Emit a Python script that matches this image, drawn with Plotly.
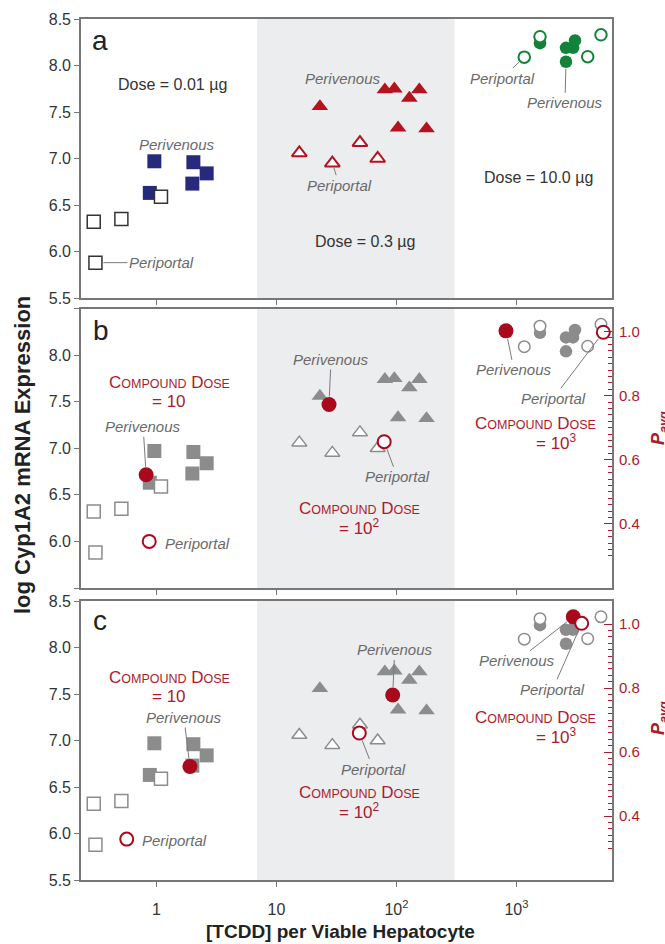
import math
import plotly.graph_objects as go

# ---- Dose = 0.01 ug (squares) ----
sq_pv_x = [0.96, 0.88, 2.03, 1.99, 2.62]
sq_pv_y = [6.97, 6.63, 6.96, 6.73, 6.84]
sq_pp_x = [0.30, 0.51, 1.09, 0.31]
sq_pp_y = [6.32, 6.35, 6.59, 5.88]

# ---- Dose = 0.3 ug (triangles) ----
tri_pv_x = [23.0, 80.0, 96.0, 128.0, 155.0, 103.0, 178.0]
tri_pv_y = [7.56, 7.74, 7.75, 7.65, 7.74, 7.33, 7.32]
tri_pp_x = [15.5, 29.2, 49.6, 69.7]
tri_pp_y = [7.06, 6.95, 7.17, 7.00]

# ---- Dose = 10.0 ug (circles) ----
cir_pv_x = [1570, 2585, 2960, 3073, 2585]
cir_pv_y = [8.24, 8.19, 8.19, 8.27, 8.04]
cir_pp_x = [1161, 1570, 3920, 5058]
cir_pp_y = [8.09, 8.31, 8.095, 8.33]

# ---- model predictions for compound doses 10, 10^2, 10^3 ----
compound_doses = ["10", "10<sup>2</sup>", "10<sup>3</sup>"]
b_pv_x = [0.82, 27.4, 817]
b_pv_y = [6.715, 7.47, 8.26]
b_pp_x = [0.87, 79.0, 5290]
b_pp_y = [6.00, 7.07, 8.245]
c_pv_x = [1.90, 93.0, 2974]
c_pv_y = [6.72, 7.49, 8.33]
c_pp_x = [0.565, 49.0, 3494]
c_pp_y = [5.94, 7.08, 8.26]

# axis ticks
y_ticks = [5.5, 6.0, 6.5, 7.0, 7.5, 8.0, 8.5]
x_ticks = [1, 10, 100, 1000]
x_ticktext = ["1", "10", "10<sup>2</sup>", "10<sup>3</sup>"]
p_ticks = [0.3, 0.4, 0.5, 0.6, 0.7, 0.8, 0.9, 1.0]
p_ticktext = ["", "0.4", "", "0.6", "", "0.8", "", "1.0"]
p_minor = [round(0.30 + 0.02 * i, 2) for i in range(36)]

FONT = "Liberation Sans, Arial, Helvetica, sans-serif"
NAVY = "#262a7c"
RED_T = "#b3121e"
GREEN = "#12843a"
GRAY = "#8c8c8c"
RED = "#a80a1c"
TXT_RED = "#ad1a2c"
LBL = "#6a6a6a"
FRAME = "#777777"
BAND = "#ecedef"

W, H = 665, 944
ML, MR, MT, MB = 81, 53, 19, 64
PW, PH = W - ML - MR, H - MT - MB


def paper(px, py):
    return (px - ML) / PW, (H - MB - py) / PH


fig = go.Figure()


def add_pts(xs, ys, xa, ya, symbol, size, color, filled, lw=1.5):
    fig.add_trace(go.Scatter(
        x=xs, y=ys, xaxis=xa, yaxis=ya, mode="markers", hoverinfo="skip",
        marker=dict(symbol=symbol, size=size,
                    color=color if filled else "white",
                    line=dict(color=color, width=0 if filled else lw)),
    ))


# panel a: coloured by dose
add_pts(sq_pv_x, sq_pv_y, "x", "y", "square", 14, NAVY, True)
add_pts(sq_pp_x, sq_pp_y, "x", "y", "square", 13, "#333333", False)
add_pts(tri_pv_x, tri_pv_y, "x", "y", "triangle-up", 14.5, RED_T, True)
add_pts(tri_pp_x, tri_pp_y, "x", "y", "triangle-up", 13, RED_T, False, 2)
add_pts(cir_pv_x, cir_pv_y, "x", "y", "circle", 12.5, GREEN, True)
add_pts(cir_pp_x, cir_pp_y, "x", "y", "circle", 11.5, GREEN, False, 2)

# panels b and c: data in gray plus predictions in red
for xa, ya, pvx, pvy, ppx, ppy in [("x2", "y2", b_pv_x, b_pv_y, b_pp_x, b_pp_y),
                                   ("x3", "y4", c_pv_x, c_pv_y, c_pp_x, c_pp_y)]:
    add_pts(sq_pv_x, sq_pv_y, xa, ya, "square", 14, GRAY, True)
    add_pts(sq_pp_x, sq_pp_y, xa, ya, "square", 13, GRAY, False)
    add_pts(tri_pv_x, tri_pv_y, xa, ya, "triangle-up", 14.5, GRAY, True)
    add_pts(tri_pp_x, tri_pp_y, xa, ya, "triangle-up", 13, GRAY, False)
    add_pts(cir_pv_x, cir_pv_y, xa, ya, "circle", 12.5, GRAY, True)
    add_pts(cir_pp_x, cir_pp_y, xa, ya, "circle", 11.5, GRAY, False)
    add_pts(pvx, pvy, xa, ya, "circle", 15, RED, True)
    add_pts(ppx, ppy, xa, ya, "circle", 13, RED, False, 2)

# panel vertical domains
dom_a = [paper(0, 298)[1], 1.0]
dom_b = [paper(0, 588)[1], paper(0, 308.5)[1]]
dom_c = [0.0, paper(0, 601)[1]]

xrange_log = [math.log10(0.235), math.log10(6250)]


def xax(anchor, labels):
    return dict(type="log", range=xrange_log, anchor=anchor, domain=[0, 1],
                showline=True, linecolor=FRAME, linewidth=1.6, mirror=True,
                ticks="outside", ticklen=5, tickwidth=1, tickcolor=FRAME,
                tickvals=x_ticks, ticktext=x_ticktext if labels else [""] * 4,
                showticklabels=labels, showgrid=False, zeroline=False,
                ticklabelstandoff=9,
                tickfont=dict(family=FONT, size=16, color="#333333"))


def yax(anchor, dom, skip_ends=False):
    tt = [("" if (skip_ends and v in (5.5, 8.5)) else f"{v:.1f}") for v in y_ticks]
    return dict(range=[5.5, 8.5], anchor=anchor, domain=dom,
                showline=True, linecolor=FRAME, linewidth=1.6, mirror=True,
                ticks="outside", ticklen=5, tickwidth=1, tickcolor=FRAME,
                tickvals=y_ticks, ticktext=tt, showgrid=False, zeroline=False,
                tickfont=dict(family=FONT, size=16, color="#333333"))


def pax(anchor, over):
    return dict(range=[0.2, 1.072], anchor=anchor, overlaying=over, side="right",
                showline=False, showgrid=False, zeroline=False,
                ticks="inside", ticklen=8, tickwidth=1, tickcolor=TXT_RED,
                tickvals=p_ticks, ticktext=p_ticktext, ticklabelstandoff=6,
                minor=dict(tickmode="array", tickvals=p_minor, ticks="inside",
                           ticklen=4, tickwidth=1, tickcolor=TXT_RED),
                tickfont=dict(family="Liberation Sans Narrow, Arial Narrow, " + FONT,
                              size=15, color=TXT_RED))


fig.update_layout(
    width=W, height=H, margin=dict(l=ML, r=MR, t=MT, b=MB),
    paper_bgcolor="white", plot_bgcolor="white", showlegend=False,
    font=dict(family=FONT),
    xaxis=xax("y", False), yaxis=yax("x", dom_a),
    xaxis2=xax("y2", False), yaxis2=yax("x2", dom_b, skip_ends=True),
    yaxis3=pax("x2", "y2"),
    xaxis3=xax("y4", True), yaxis4=yax("x3", dom_c),
    yaxis5=pax("x3", "y4"),
)
# keep the right-hand axes visible even without traces
fig.add_trace(go.Scatter(x=[None], y=[None], xaxis="x2", yaxis="y3", hoverinfo="skip"))
fig.add_trace(go.Scatter(x=[None], y=[None], xaxis="x3", yaxis="y5", hoverinfo="skip"))

# shaded 0.3 ug region in every panel
for xr, yr in [("x", "y"), ("x2", "y2"), ("x3", "y4")]:
    fig.add_shape(type="rect", xref=xr, yref=f"{yr} domain", x0=6.9, x1=305,
                  y0=0, y1=1, fillcolor=BAND, line=dict(width=0), layer="below")

ann = []


def text(px, py, s, size=15, color=LBL, italic=False, bold=False, anchor="center", angle=0):
    x, y = paper(px, py)
    if italic:
        s = f"<i>{s}</i>"
    if bold:
        s = f"<b>{s}</b>"
    ann.append(dict(xref="paper", yref="paper", x=x, y=y, text=s, showarrow=False,
                    xanchor=anchor, yanchor="middle", textangle=angle,
                    font=dict(family=FONT, size=size, color=color)))


def leader(xa, ya, xv, yv, dx, dy, s, standoff=7):
    ann.append(dict(xref=xa, yref=ya, x=math.log10(xv), y=yv, ax=dx, ay=dy,
                    text=f"<i>{s}</i>", showarrow=True, arrowhead=0, arrowwidth=1,
                    arrowcolor="#7a7a7a", standoff=standoff,
                    font=dict(family=FONT, size=15, color=LBL)))


def compound(px, py, dose, px2=None):
    sc = "font-size:12.5px"
    head = (f"C<span style='{sc}'>OMPOUND</span> D<span style='{sc}'>OSE</span>")
    text(px, py, head, size=17, color=TXT_RED)
    text(px if px2 is None else px2, py + 19, f"= {dose}", size=17, color=TXT_RED)


# panel letters
text(100, 40, "a", size=28, color="#222222")
text(101, 330, "b", size=28, color="#222222")
text(100, 620, "c", size=28, color="#222222")

# panel a labels
text(172, 84, "Dose = 0.01 µg", size=16, color="#333333")
text(365, 242, "Dose = 0.3 µg", size=16, color="#333333")
text(538, 177, "Dose = 10.0 µg", size=16, color="#333333")
text(177, 144, "Perivenous", italic=True)
text(343, 78, "Perivenous", italic=True)
leader("x", "y", sq_pp_x[3], sq_pp_y[3], 66, 0, "Periportal", 8)
leader("x", "y", tri_pp_x[1], tri_pp_y[1], 7, 22, "Periportal", 5)
leader("x", "y", cir_pp_x[0], cir_pp_y[0], -22, 21, "Periportal", 7)
leader("x", "y", cir_pv_x[4], cir_pv_y[4], -1, 41, "Perivenous", 7)

# panel b labels
compound(169, 382, compound_doses[0])
compound(359, 508, compound_doses[1])
compound(535, 423, compound_doses[2], px2=556)
leader("x2", "y2", b_pv_x[0], b_pv_y[0], -3, -48, "Perivenous", 8)
text(163, 543, "Periportal", italic=True, anchor="left")
leader("x2", "y2", b_pv_x[1], b_pv_y[1], 2, -45, "Perivenous", 8)
leader("x2", "y2", b_pp_x[1], b_pp_y[1], 13, 35, "Periportal", 8)
leader("x2", "y2", b_pv_x[2], b_pv_y[2], 8, 39, "Perivenous", 8)
leader("x2", "y2", b_pp_x[2], b_pp_y[2], -50, 66, "Periportal", 8)

# panel c labels
compound(169, 677, compound_doses[0])
compound(359, 792, compound_doses[1])
compound(535, 717, compound_doses[2], px2=556)
leader("x3", "y4", c_pv_x[0], c_pv_y[0], -6, -49, "Perivenous", 8)
text(140, 840, "Periportal", italic=True, anchor="left")
leader("x3", "y4", c_pv_x[1], c_pv_y[1], 2, -45, "Perivenous", 8)
leader("x3", "y4", c_pp_x[1], c_pp_y[1], 14, 36, "Periportal", 8)
leader("x3", "y4", c_pv_x[2], c_pv_y[2], -56, 44, "Perivenous", 8)
leader("x3", "y4", c_pp_x[2], c_pp_y[2], -29, 66, "Periportal", 8)

# axis titles
text(22, 455, "log Cyp1A2 mRNA Expression", size=22, color="#222222", bold=True, angle=-90)
text(340, 931, "[TCDD] per Viable Hepatocyte", size=19, color="#222222", bold=True)
p_title = "<b><i>P</i></b><sub><b><i>avg</i></b></sub>"
text(659, 428, p_title, size=18, color=TXT_RED, angle=-90)
text(659, 718, p_title, size=18, color=TXT_RED, angle=-90)

fig.update_layout(annotations=ann)
fig.write_html("out.html")
